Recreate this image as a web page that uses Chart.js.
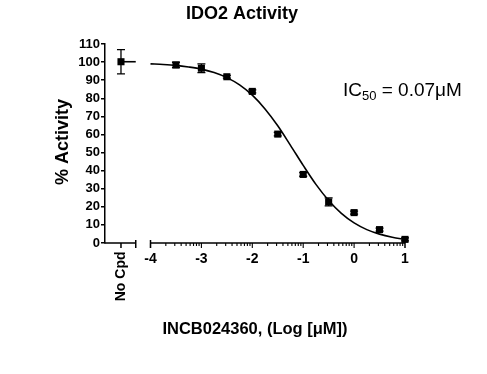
<!DOCTYPE html>
<html>
<head>
<meta charset="utf-8">
<script src="https://cdn.jsdelivr.net/npm/chart.js@4/dist/chart.umd.min.js"></script>
<style>
html,body{margin:0;padding:0;background:#fff;}
#wrap{width:487px;height:374px;position:relative;}
</style>
</head>
<body>
<div id="wrap"><canvas id="c" width="487" height="374"></canvas></div>
<script>
// ---- data ----
const chartTitle = 'IDO2 Activity';
const xTitle = 'INCB024360, (Log [\u03BCM])';
const yTitle = '% Activity';
const controlLabel = 'No Cpd';
const controlValue = [100.2];
const controlError = [6.7];
const logConc = [-3.5, -3, -2.5, -2, -1.5, -1, -0.5, 0, 0.5, 1];
const activity = [98.4, 96.6, 91.9, 83.8, 60.2, 37.9, 22.7, 16.8, 7.4, 2.0];
const activityError = [1.5, 2.4, 0.8, 0.8, 1.0, 1.0, 2.2, 0.8, 0.8, 0.8];
const fitLogConc = [-4, -3.75, -3.5, -3.25, -3, -2.75, -2.5, -2.25, -2, -1.75, -1.5, -1.25, -1, -0.75, -0.5, -0.25, 0, 0.25, 0.5, 0.75, 1];
const fitActivity = [99.0, 98.7, 98.2, 97.3, 96.1, 94.2, 91.4, 87.4, 81.7, 74.1, 64.8, 54.0, 42.9, 32.4, 23.5, 16.4, 11.1, 7.4, 4.9, 3.2, 2.0];
const xTickValues = [-4, -3, -2, -1, 0, 1];
const yTickValues = [0, 10, 20, 30, 40, 50, 60, 70, 80, 90, 100, 110];
const ic50Main = 'IC';
const ic50Sub = '50';
const ic50Rest = ' = 0.07\u03BCM';

// axis layout (broken x axis)
const xMin = -4.894, xMax = 1;
const controlPos = -4.58;
const leftSegEnd = -4.29;

const FONT = "'Liberation Sans', Arial, sans-serif";

const extras = {
  id: 'extras',
  afterDatasetsDraw(chart) {
    const ctx = chart.ctx;
    const xs = chart.scales.x, ys = chart.scales.y;
    ctx.save();
    ctx.strokeStyle = '#000';
    ctx.fillStyle = '#000';
    ctx.lineWidth = 1.3;
    const bar = (xv, yv, e) => {
      const px = xs.getPixelForValue(xv);
      const y1 = ys.getPixelForValue(yv - e), y2 = ys.getPixelForValue(yv + e);
      ctx.beginPath();
      ctx.moveTo(px, y1); ctx.lineTo(px, y2);
      ctx.moveTo(px - 4, y1); ctx.lineTo(px + 4, y1);
      ctx.moveTo(px - 4, y2); ctx.lineTo(px + 4, y2);
      ctx.stroke();
    };
    bar(controlPos, controlValue[0], controlError[0]);
    logConc.forEach((v, i) => bar(v, activity[i], activityError[i]));
    ctx.restore();
  },
  afterDraw(chart) {
    const ctx = chart.ctx;
    const xs = chart.scales.x, ys = chart.scales.y;
    const y0 = ys.getPixelForValue(0);
    ctx.save();
    ctx.strokeStyle = '#000';
    ctx.fillStyle = '#000';
    ctx.lineWidth = 1.5;
    const xl = xs.getPixelForValue(xMin), xle = xs.getPixelForValue(leftSegEnd);
    ctx.beginPath();
    ctx.moveTo(xl - 0.75, y0); ctx.lineTo(xle, y0);
    ctx.moveTo(xle, y0 - 3); ctx.lineTo(xle, y0 + 5);
    const xc = xs.getPixelForValue(controlPos);
    ctx.moveTo(xc, y0); ctx.lineTo(xc, y0 + 5);
    const xr0 = xs.getPixelForValue(xTickValues[0]);
    const xr1 = xs.getPixelForValue(xTickValues[xTickValues.length - 1]);
    ctx.moveTo(xr0, y0); ctx.lineTo(xr1, y0);
    ctx.moveTo(xr0, y0 - 3); ctx.lineTo(xr0, y0 + 5);
    ctx.moveTo(xr1, y0 - 3); ctx.lineTo(xr1, y0 + 5);
    ctx.stroke();
    ctx.lineWidth = 1.1;
    ctx.beginPath();
    for (let d = xTickValues[0]; d < xTickValues[xTickValues.length - 1]; d++) {
      const p = xs.getPixelForValue(d);
      ctx.moveTo(p, y0); ctx.lineTo(p, y0 + 5);
      for (let k = 2; k <= 9; k++) {
        const pm = xs.getPixelForValue(d + Math.log10(k));
        ctx.moveTo(pm, y0); ctx.lineTo(pm, y0 + 3);
      }
    }
    ctx.stroke();
    // No Cpd label
    ctx.save();
    ctx.translate(xc + 0.5, y0 + 8.5);
    ctx.rotate(-Math.PI / 2);
    ctx.font = 'bold 14px ' + FONT;
    ctx.textAlign = 'right';
    ctx.textBaseline = 'middle';
    ctx.fillText(controlLabel, 0, 0);
    ctx.restore();
    // title
    ctx.font = 'bold 18px ' + FONT;
    ctx.textAlign = 'center';
    ctx.textBaseline = 'alphabetic';
    ctx.fillText(chartTitle, 242, 19);
    // x title
    ctx.font = 'bold 16.5px ' + FONT;
    ctx.fillText(xTitle, 255, 334);
    // y title
    ctx.save();
    ctx.translate(63, 142);
    ctx.rotate(-Math.PI / 2);
    ctx.font = 'bold 18px ' + FONT;
    ctx.textAlign = 'center';
    ctx.textBaseline = 'middle';
    ctx.fillText(yTitle, 0, 0);
    ctx.restore();
    // IC50 annotation
    ctx.textAlign = 'left';
    ctx.textBaseline = 'alphabetic';
    ctx.font = '19px ' + FONT;
    let tx = 343;
    ctx.fillText(ic50Main, tx, 96);
    tx += ctx.measureText(ic50Main).width;
    ctx.font = '13px ' + FONT;
    ctx.fillText(ic50Sub, tx, 100);
    tx += ctx.measureText(ic50Sub).width;
    ctx.font = '19px ' + FONT;
    ctx.fillText(ic50Rest, tx, 96);
    ctx.restore();
  }
};

new Chart(document.getElementById('c'), {
  type: 'scatter',
  data: {
    datasets: [
      {
        label: 'fit',
        type: 'line',
        data: fitLogConc.map((x, i) => ({x, y: fitActivity[i]})),
        borderColor: '#000',
        borderWidth: 1.6,
        pointRadius: 0,
        cubicInterpolationMode: 'monotone',
        fill: false,
        clip: false
      },
      {
        label: 'control line',
        type: 'line',
        data: [{x: controlPos, y: controlValue[0]}, {x: leftSegEnd, y: controlValue[0]}],
        borderColor: '#000',
        borderWidth: 1.6,
        pointRadius: 0,
        fill: false,
        clip: false
      },
      {
        label: 'control',
        data: [{x: controlPos, y: controlValue[0]}],
        pointStyle: 'rect',
        pointRadius: 5,
        backgroundColor: '#000',
        borderColor: '#000',
        borderWidth: 0,
        clip: false
      },
      {
        label: 'activity',
        data: logConc.map((x, i) => ({x, y: activity[i]})),
        pointStyle: 'rect',
        pointRadius: 5,
        backgroundColor: '#000',
        borderColor: '#000',
        borderWidth: 0,
        clip: false
      }
    ]
  },
  options: {
    responsive: false,
    animation: false,
    layout: {padding: {left: 0, top: 44, right: 82, bottom: 0}},
    plugins: {legend: {display: false}, title: {display: false}, tooltip: {enabled: false}},
    scales: {
      x: {
        type: 'linear',
        min: xMin, max: xMax,
        afterBuildTicks: s => { s.ticks = xTickValues.map(v => ({value: v})); },
        afterFit: s => { s.height = 131; },
        grid: {display: false, drawTicks: false},
        border: {display: false},
        ticks: {
          color: '#000',
          font: {family: FONT, size: 14, weight: 'bold'},
          padding: 8,
          maxRotation: 0,
          autoSkip: false,
          callback: v => String(v)
        }
      },
      y: {
        min: 0, max: 110,
        afterBuildTicks: s => { s.ticks = yTickValues.map(v => ({value: v})); },
        afterFit: s => { s.width = 105; },
        grid: {drawOnChartArea: false, drawTicks: true, tickLength: 4, color: '#000', lineWidth: 1.5},
        border: {display: true, color: '#000', width: 1.5},
        ticks: {
          color: '#000',
          font: {family: FONT, size: 13, weight: 'bold'},
          padding: 1,
          autoSkip: false
        }
      }
    }
  },
  plugins: [extras]
});
</script>
</body>
</html>
